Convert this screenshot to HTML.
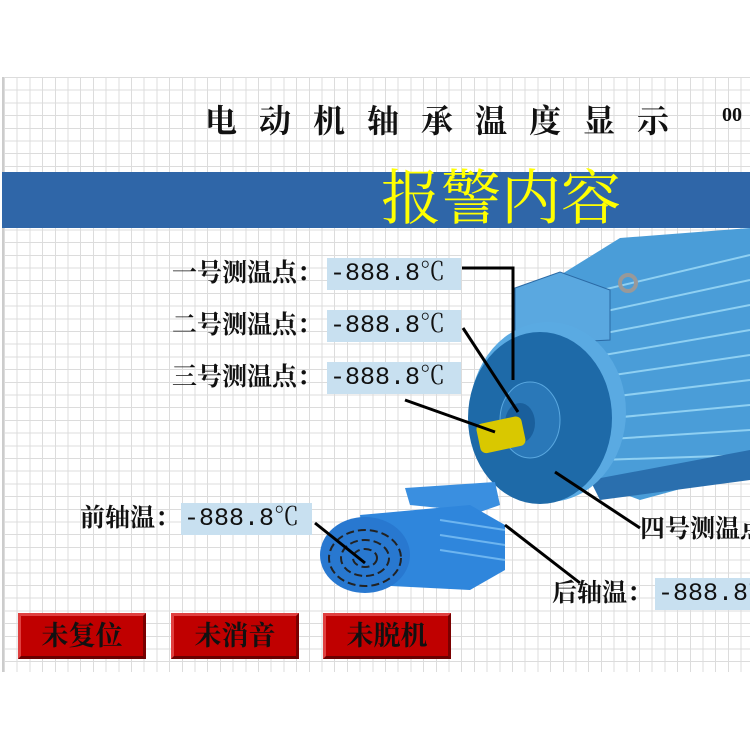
<!DOCTYPE html>
<html><head><meta charset="utf-8"><style>
body{margin:0;width:750px;height:750px;background:#fff;position:relative;overflow:hidden;font-family:"Liberation Serif","Noto Serif CJK SC",serif;}
.grid{position:absolute;left:2px;top:77px;width:748px;height:595px;
background-image:repeating-linear-gradient(to right,#dcdcdc 0 1px,transparent 1px 12.7px),repeating-linear-gradient(to bottom,#dcdcdc 0 1px,transparent 1px 12.7px);border-left:2px solid #ccc;}
.t{position:absolute;white-space:nowrap;color:#111;}
.box{position:absolute;background:#c8e0f0;font-size:25px;line-height:32px;padding-left:3px;font-family:"Liberation Mono","Noto Serif CJK SC",monospace;color:#111;white-space:nowrap;overflow:hidden;}
.btn{position:absolute;top:613px;width:128px;height:46px;background:#c00000;border:3px solid;border-color:#e04040 #7a0000 #6a0000 #e04040;box-sizing:border-box;font-size:27px;line-height:40px;text-align:center;color:#111;font-weight:bold;font-family:"Liberation Serif","Noto Serif CJK SC",serif;}
.lab{font-size:25px;line-height:32px;font-weight:bold;}
</style></head><body>
<div class="grid"></div>
<div class="t" style="left:205px;top:96px;font-size:32px;letter-spacing:22px;font-weight:bold;">电动机轴承温度显示</div>
<div class="t" style="left:722px;top:104px;font-size:20px;font-weight:bold;">00</div>
<div style="position:absolute;left:2px;top:172px;width:748px;height:56px;background:#2f66a8;"></div>
<div class="t" style="left:381px;top:162px;font-size:60px;color:#ffff00;line-height:74px;">报警内容</div>
<svg style="position:absolute;left:0;top:0" width="750" height="750">
 <polygon points="520,300 620,238 750,228 750,470 640,500 560,470" fill="#4a9dd8"/>
 <g stroke="#8fd0f2" stroke-width="2">
  <line x1="560" y1="300" x2="750" y2="255"/><line x1="565" y1="320" x2="750" y2="280"/>
  <line x1="570" y1="340" x2="750" y2="305"/><line x1="575" y1="360" x2="750" y2="330"/>
  <line x1="580" y1="380" x2="750" y2="355"/><line x1="585" y1="400" x2="750" y2="380"/>
  <line x1="590" y1="420" x2="750" y2="405"/><line x1="595" y1="440" x2="750" y2="430"/>
  <line x1="600" y1="460" x2="750" y2="455"/>
 </g>
 <polygon points="590,480 750,450 750,480 600,500" fill="#2a6fae"/>
 <polygon points="515,288 560,272 610,290 610,340 515,345" fill="#5aa8e0" stroke="#2b6aa5"/>
 <circle cx="628" cy="283" r="8" fill="none" stroke="#999" stroke-width="4"/>
 <ellipse cx="548" cy="412" rx="78" ry="90" fill="#5aaae2"/>
 <ellipse cx="540" cy="418" rx="72" ry="86" fill="#1e6aa8"/>
 <ellipse cx="530" cy="420" rx="30" ry="38" fill="#2a78b8" stroke="#5aa8e0"/>
 <ellipse cx="520" cy="423" rx="15" ry="20" fill="#1a5f9c"/>
 <rect x="478" y="420" width="46" height="30" rx="6" fill="#d9c800" transform="rotate(-12 500 435)"/>
 <polygon points="405,488 495,482 500,505 480,512 410,505" fill="#3a8fe0"/>
 <polygon points="360,515 470,505 505,525 505,570 470,590 370,585" fill="#2f86dc"/>
 <g stroke="#6db5f0" stroke-width="2"><line x1="440" y1="520" x2="505" y2="530"/><line x1="440" y1="535" x2="505" y2="545"/><line x1="440" y1="550" x2="505" y2="560"/></g>
 <ellipse cx="365" cy="555" rx="45" ry="38" fill="#2878d0"/>
 <g fill="none" stroke="#222" stroke-width="2" stroke-dasharray="8 4">
  <ellipse cx="365" cy="558" rx="36" ry="28"/><ellipse cx="365" cy="558" rx="24" ry="18"/><ellipse cx="365" cy="558" rx="12" ry="9"/>
 </g>
 <g stroke="#000" stroke-width="3" fill="none">
  <polyline points="462,268 513,268 513,380"/>
  <line x1="463" y1="328" x2="518" y2="412"/>
  <line x1="405" y1="400" x2="495" y2="432"/>
  <line x1="555" y1="472" x2="640" y2="528"/>
  <line x1="315" y1="523" x2="365" y2="563"/>
  <line x1="505" y1="525" x2="580" y2="583"/>
 </g>
</svg>
<div class="t lab" style="left:172px;top:258px;">一号测温点：</div>
<div class="box" style="left:327px;top:258px;width:131px;">-888.8℃</div>
<div class="t lab" style="left:172px;top:310px;">二号测温点：</div>
<div class="box" style="left:327px;top:310px;width:131px;">-888.8℃</div>
<div class="t lab" style="left:172px;top:362px;">三号测温点：</div>
<div class="box" style="left:327px;top:362px;width:131px;">-888.8℃</div>
<div class="t lab" style="left:80px;top:503px;">前轴温：</div>
<div class="box" style="left:181px;top:503px;width:128px;">-888.8℃</div>
<div class="t lab" style="left:640px;top:514px;">四号测温点</div>
<div class="t lab" style="left:552px;top:578px;">后轴温：</div>
<div class="box" style="left:655px;top:578px;width:100px;">-888.8℃</div>
<div class="btn" style="left:18px;">未复位</div>
<div class="btn" style="left:171px;">未消音</div>
<div class="btn" style="left:323px;">未脱机</div>
</body></html>
